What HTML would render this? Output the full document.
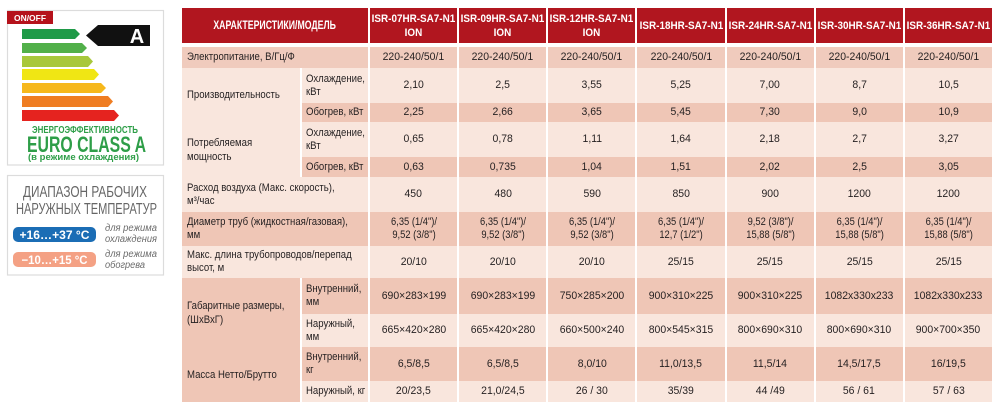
<!DOCTYPE html>
<html><head><meta charset="utf-8">
<style>
html,body{margin:0;padding:0;background:#fff;}
body{width:1000px;height:409px;position:relative;overflow:hidden;font-family:"Liberation Sans",sans-serif;color:#231f20;}
.abs{position:absolute;}
.row{position:absolute;display:grid;column-gap:2px;}
.rs{left:182px;width:810px;grid-template-columns:186px repeat(7,minmax(0,1fr));}
.rn{left:302px;width:690px;grid-template-columns:66px repeat(7,minmax(0,1fr));}
.D>div{background:#efc6b6;}
.L>div{background:#f9e6dd;}
.row>div{display:flex;align-items:center;justify-content:center;font-size:11px;line-height:13px;overflow:visible;white-space:nowrap;min-width:0;}
.row>div.lb{justify-content:flex-start;padding-left:5px;}
.row>div.sl{justify-content:flex-start;padding-left:4px;}
.t{display:inline-block;transform:scaleX(.87);transform-origin:left center;}
.v{display:inline-block;transform:scaleX(.95);text-align:center;}
.p{display:inline-block;transform:scaleX(.85);text-align:center;font-size:11px;line-height:13px;}
.grp{position:absolute;left:182px;width:113px;padding-left:5px;display:flex;align-items:center;font-size:11px;line-height:14px;white-space:nowrap;}
.hdr{position:absolute;top:8px;height:35px;display:grid;column-gap:2px;left:182px;width:810px;grid-template-columns:186px repeat(7,minmax(0,1fr));}
.hdr>div{background:#b1161f;color:#fff;font-weight:bold;font-size:11px;line-height:14px;display:flex;align-items:center;justify-content:center;text-align:center;white-space:nowrap;min-width:0;overflow:visible;}
.h{display:inline-block;transform:scaleX(.9);}
</style></head>
<body>
<svg class="abs" style="left:0;top:0" width="175" height="409" viewBox="0 0 175 409">
  <rect x="7.5" y="10.5" width="156" height="154.5" fill="#fff" stroke="#dcdcdc" stroke-width="1.2"/>
  <rect x="7" y="11" width="46" height="13" fill="#b5121b"/>
  <text x="30" y="21" fill="#fff" font-family="Liberation Sans" font-weight="bold" font-size="8.5" text-anchor="middle" textLength="32" lengthAdjust="spacingAndGlyphs">ON/OFF</text>
  <polygon points="22,29 75,29 80,34 75,39 22,39" fill="#1f9a48"/>
  <polygon points="22,43 82,43 87,48 82,53 22,53" fill="#52b04a"/>
  <polygon points="22,56 88,56 93,61.5 88,67 22,67" fill="#a8c83c"/>
  <polygon points="22,69 94,69 99,74.5 94,80 22,80" fill="#f0e614"/>
  <polygon points="22,83 101,83 106,88 101,93 22,93" fill="#f6b81c"/>
  <polygon points="22,96 108,96 113,101.5 108,107 22,107" fill="#ef7d22"/>
  <polygon points="22,110 114,110 119,115.5 114,121 22,121" fill="#e5231f"/>
  <polygon points="86,35.5 98,25 150,25 150,46 98,46" fill="#111"/>
  <text x="137" y="43" fill="#fff" font-family="Liberation Sans" font-weight="bold" font-size="20" text-anchor="middle">A</text>
  <text x="32" y="133" fill="#2e9e48" font-family="Liberation Sans" font-weight="bold" font-size="10.5" textLength="106" lengthAdjust="spacingAndGlyphs">ЭНЕРГОЭФФЕКТИВНОСТЬ</text>
  <text x="27" y="152" fill="#2e9e48" font-family="Liberation Sans" font-weight="bold" font-size="22" textLength="119" lengthAdjust="spacingAndGlyphs">EURO CLASS A</text>
  <text x="28" y="160" fill="#2e9e48" font-family="Liberation Sans" font-weight="bold" font-size="9" textLength="111" lengthAdjust="spacingAndGlyphs">(в режиме охлаждения)</text>

  <rect x="7.5" y="175.5" width="156" height="99.5" fill="#fff" stroke="#dcdcdc" stroke-width="1.2"/>
  <text x="23" y="197" fill="#666" font-family="Liberation Sans" font-size="15.5" textLength="124" lengthAdjust="spacingAndGlyphs">ДИАПАЗОН РАБОЧИХ</text>
  <text x="16" y="214" fill="#666" font-family="Liberation Sans" font-size="15.5" textLength="141" lengthAdjust="spacingAndGlyphs">НАРУЖНЫХ ТЕМПЕРАТУР</text>
  <rect x="13" y="227" width="83" height="15" rx="5" fill="#1b6db5"/>
  <text x="54.5" y="239" fill="#fff" font-family="Liberation Sans" font-weight="bold" font-size="12" text-anchor="middle" textLength="70" lengthAdjust="spacingAndGlyphs">+16…+37 °C</text>
  <text x="105" y="231" fill="#6b6b6b" font-family="Liberation Sans" font-style="italic" font-size="10" textLength="52" lengthAdjust="spacingAndGlyphs">для режима</text>
  <text x="105" y="242" fill="#6b6b6b" font-family="Liberation Sans" font-style="italic" font-size="10" textLength="52" lengthAdjust="spacingAndGlyphs">охлаждения</text>
  <rect x="13" y="252" width="83" height="15" rx="5" fill="#f4a184"/>
  <text x="54.5" y="264" fill="#fff" font-family="Liberation Sans" font-weight="bold" font-size="12" text-anchor="middle" textLength="66" lengthAdjust="spacingAndGlyphs">−10…+15 °C</text>
  <text x="105" y="257" fill="#6b6b6b" font-family="Liberation Sans" font-style="italic" font-size="10" textLength="52" lengthAdjust="spacingAndGlyphs">для режима</text>
  <text x="105" y="268" fill="#6b6b6b" font-family="Liberation Sans" font-style="italic" font-size="10" textLength="40" lengthAdjust="spacingAndGlyphs">обогрева</text>
</svg>

<div class="hdr">
  <div><span class="h" style="transform:scaleX(.76);font-size:11.5px">ХАРАКТЕРИСТИКИ/МОДЕЛЬ</span></div>
  <div><span class="h">ISR-07HR-SA7-N1<br>ION</span></div>
  <div><span class="h">ISR-09HR-SA7-N1<br>ION</span></div>
  <div><span class="h">ISR-12HR-SA7-N1<br>ION</span></div>
  <div><span class="h">ISR-18HR-SA7-N1</span></div>
  <div><span class="h">ISR-24HR-SA7-N1</span></div>
  <div><span class="h">ISR-30HR-SA7-N1</span></div>
  <div><span class="h">ISR-36HR-SA7-N1</span></div>
</div>

<!-- group label cells -->
<div class="grp" style="top:68px;height:54px;background:#f9e6dd;"><span class="t">Производительность</span></div>
<div class="grp" style="top:122px;height:55px;background:#f9e6dd;"><span class="t">Потребляемая<br>мощность</span></div>
<div class="grp" style="top:278px;height:69px;background:#efc6b6;"><span class="t">Габаритные размеры,<br>(ШхВхГ)</span></div>
<div class="grp" style="top:347px;height:55px;background:#efc6b6;"><span class="t">Масса Нетто/Брутто</span></div>

<!-- r1 -->
<div class="row rs D" style="top:47px;height:21px;">
  <div class="lb" style="background:#f0cbbd"><span class="t">Электропитание, В/Гц/Ф</span></div>
  <div style="background:#f0cbbd"><span class="v">220-240/50/1</span></div><div style="background:#f0cbbd"><span class="v">220-240/50/1</span></div><div style="background:#f0cbbd"><span class="v">220-240/50/1</span></div><div style="background:#f0cbbd"><span class="v">220-240/50/1</span></div><div style="background:#f0cbbd"><span class="v">220-240/50/1</span></div><div style="background:#f0cbbd"><span class="v">220-240/50/1</span></div><div style="background:#f0cbbd"><span class="v">220-240/50/1</span></div>
</div>
<!-- r2 -->
<div class="row rn L" style="top:68px;height:35px;">
  <div class="sl"><span class="t">Охлаждение,<br>кВт</span></div>
  <div><span class="v">2,10</span></div><div><span class="v">2,5</span></div><div><span class="v">3,55</span></div><div><span class="v">5,25</span></div><div><span class="v">7,00</span></div><div><span class="v">8,7</span></div><div><span class="v">10,5</span></div>
</div>
<!-- r3 -->
<div class="row rn D" style="top:103px;height:19px;">
  <div class="sl"><span class="t">Обогрев, кВт</span></div>
  <div><span class="v">2,25</span></div><div><span class="v">2,66</span></div><div><span class="v">3,65</span></div><div><span class="v">5,45</span></div><div><span class="v">7,30</span></div><div><span class="v">9,0</span></div><div><span class="v">10,9</span></div>
</div>
<!-- r4 -->
<div class="row rn L" style="top:122px;height:35px;">
  <div class="sl"><span class="t">Охлаждение,<br>кВт</span></div>
  <div><span class="v">0,65</span></div><div><span class="v">0,78</span></div><div><span class="v">1,11</span></div><div><span class="v">1,64</span></div><div><span class="v">2,18</span></div><div><span class="v">2,7</span></div><div><span class="v">3,27</span></div>
</div>
<!-- r5 -->
<div class="row rn D" style="top:157px;height:20px;">
  <div class="sl"><span class="t">Обогрев, кВт</span></div>
  <div><span class="v">0,63</span></div><div><span class="v">0,735</span></div><div><span class="v">1,04</span></div><div><span class="v">1,51</span></div><div><span class="v">2,02</span></div><div><span class="v">2,5</span></div><div><span class="v">3,05</span></div>
</div>
<!-- r6 -->
<div class="row rs L" style="top:177px;height:35px;">
  <div class="lb"><span class="t">Расход воздуха (Макс. скорость),<br>м³/час</span></div>
  <div><span class="v">450</span></div><div><span class="v">480</span></div><div><span class="v">590</span></div><div><span class="v">850</span></div><div><span class="v">900</span></div><div><span class="v">1200</span></div><div><span class="v">1200</span></div>
</div>
<!-- r7 -->
<div class="row rs D" style="top:212px;height:34px;">
  <div class="lb"><span class="t">Диаметр труб (жидкостная/газовая),<br>мм</span></div>
  <div><span class="p">6,35 (1/4")/<br>9,52 (3/8")</span></div><div><span class="p">6,35 (1/4")/<br>9,52 (3/8")</span></div><div><span class="p">6,35 (1/4")/<br>9,52 (3/8")</span></div><div><span class="p">6,35 (1/4")/<br>12,7 (1/2")</span></div><div><span class="p">9,52 (3/8")/<br>15,88 (5/8")</span></div><div><span class="p">6,35 (1/4")/<br>15,88 (5/8")</span></div><div><span class="p">6,35 (1/4")/<br>15,88 (5/8")</span></div>
</div>
<!-- r8 -->
<div class="row rs L" style="top:246px;height:32px;">
  <div class="lb"><span class="t">Макс. длина трубопроводов/перепад<br>высот, м</span></div>
  <div><span class="v">20/10</span></div><div><span class="v">20/10</span></div><div><span class="v">20/10</span></div><div><span class="v">25/15</span></div><div><span class="v">25/15</span></div><div><span class="v">25/15</span></div><div><span class="v">25/15</span></div>
</div>
<!-- r9 -->
<div class="row rn D" style="top:278px;height:36px;">
  <div class="sl"><span class="t">Внутренний,<br>мм</span></div>
  <div><span class="v">690×283×199</span></div><div><span class="v">690×283×199</span></div><div><span class="v">750×285×200</span></div><div><span class="v">900×310×225</span></div><div><span class="v">900×310×225</span></div><div><span class="v">1082x330x233</span></div><div><span class="v">1082x330x233</span></div>
</div>
<!-- r10 -->
<div class="row rn L" style="top:314px;height:33px;">
  <div class="sl"><span class="t">Наружный,<br>мм</span></div>
  <div><span class="v">665×420×280</span></div><div><span class="v">665×420×280</span></div><div><span class="v">660×500×240</span></div><div><span class="v">800×545×315</span></div><div><span class="v">800×690×310</span></div><div><span class="v">800×690×310</span></div><div><span class="v">900×700×350</span></div>
</div>
<!-- r11 -->
<div class="row rn D" style="top:347px;height:34px;">
  <div class="sl"><span class="t">Внутренний,<br>кг</span></div>
  <div><span class="v">6,5/8,5</span></div><div><span class="v">6,5/8,5</span></div><div><span class="v">8,0/10</span></div><div><span class="v">11,0/13,5</span></div><div><span class="v">11,5/14</span></div><div><span class="v">14,5/17,5</span></div><div><span class="v">16/19,5</span></div>
</div>
<!-- r12 -->
<div class="row rn L" style="top:381px;height:21px;">
  <div class="sl"><span class="t">Наружный, кг</span></div>
  <div><span class="v">20/23,5</span></div><div><span class="v">21,0/24,5</span></div><div><span class="v">26 / 30</span></div><div><span class="v">35/39</span></div><div><span class="v">44 /49</span></div><div><span class="v">56 / 61</span></div><div><span class="v">57 / 63</span></div>
</div>
</body></html>
